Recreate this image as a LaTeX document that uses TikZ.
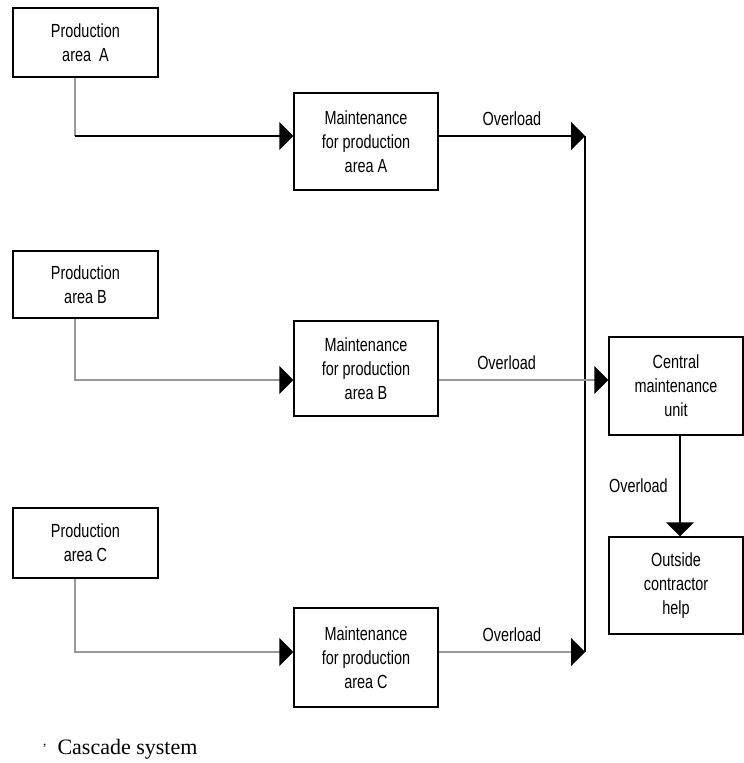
\documentclass[tikz,border=0pt]{standalone}
\usepackage{fontspec}
\setmainfont{Liberation Sans}[FakeStretch=0.76]
\newfontfamily\captionfont{Liberation Serif}
\usepackage{xcolor}
\usepackage{tikz}
\usetikzlibrary{arrows.meta, positioning}

\begin{document}
\begin{tikzpicture}[
        x=1pt, y=-1pt,
        caixa/.style={rectangle, draw=black, line width=1.5pt, minimum width=145pt, align=center, font=\fontsize{19}{24}\selectfont, inner sep=0pt},
        seta/.style={line width=1.8pt, -{Triangle[length=14pt,width=28pt,color=black]}},
        linha/.style={line width=1.8pt},
        cinza/.style={draw=black!40},
        rotulo/.style={font=\fontsize{19}{20}\selectfont}
    ]
        \useasboundingbox (0,0) rectangle (744,763);

        % Nós do diagrama
        \node[caixa, minimum height=69pt] (prodA) at (85.5,42.5) {Production\\area~~A};
        \node[caixa, minimum height=67pt] (prodB) at (85.5,284.5) {Production\\area B};
        \node[caixa, minimum height=70pt] (prodC) at (85.5,543) {Production\\area C};
        \node[caixa, minimum width=144pt, minimum height=97pt] (maintA) at (366,141.5) {Maintenance\\for production\\area A};
        \node[caixa, minimum width=144pt, minimum height=95pt] (maintB) at (366,368.5) {Maintenance\\for production\\area B};
        \node[caixa, minimum width=144pt, minimum height=99pt] (maintC) at (366,657.5) {Maintenance\\for production\\area C};
        \node[caixa, minimum width=134pt, minimum height=98pt] (central) at (676,386) {Central\\maintenance\\unit};
        \node[caixa, minimum width=134pt, minimum height=97pt] (outside) at (676,585.5) {Outside\\contractor\\help};
        \coordinate (cantoA) at (75,136);
        \coordinate (busA) at (585,136);
        \coordinate (busC) at (585,652);
        \node[font=\captionfont\fontsize{22}{24}\selectfont, anchor=west] (legenda) at (54,749) {Cascade system};
        \node[font=\captionfont\fontsize{13}{16}\selectfont, left=4pt of legenda, yshift=3pt] (marca) {,};

        % Conexões
        \draw[linha] (busA) -- (busC);
        \draw[linha, cinza] ([xshift=-10.5pt]prodA.south) -- (cantoA);
        \draw[seta] (cantoA) -- ([yshift=5.5pt]maintA.west);
        \draw[seta, cinza] ([xshift=-10.5pt]prodB.south) |- ([yshift=-11.5pt]maintB.west);
        \draw[seta, cinza] ([xshift=-10.5pt]prodC.south) |- ([yshift=5.5pt]maintC.west);
        \draw[seta] ([yshift=5.5pt]maintA.east) -- node[rotulo, above=6pt] {Overload} (busA);
        \draw[seta, cinza] ([yshift=-11.5pt]maintB.east) -- node[rotulo, above=6pt, pos=0.4] {Overload} ([yshift=6pt]central.west);
        \draw[seta, cinza] ([yshift=5.5pt]maintC.east) -- node[rotulo, above=6pt] {Overload} (busC);
        \draw[seta] ([xshift=4pt]central.south) -- node[rotulo, left=8pt] {Overload} ([xshift=4pt]outside.north);
    \end{tikzpicture}
\end{document}
